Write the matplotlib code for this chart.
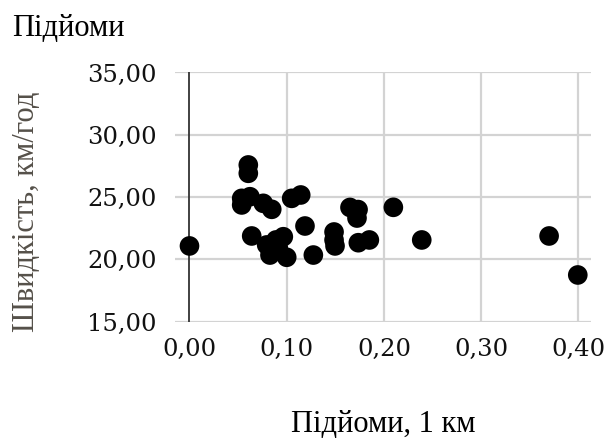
import matplotlib
matplotlib.use("Agg")
import matplotlib.pyplot as plt
from matplotlib.ticker import FixedLocator, FuncFormatter

# Data
climb_km = [0.000, 0.0605, 0.0605, 0.0537, 0.0622, 0.0537, 0.0759, 0.0846,
            0.1051, 0.1144, 0.1188, 0.0640, 0.0965, 0.0794, 0.0914, 0.0828,
            0.1000, 0.0890, 0.1274, 0.1487, 0.1487, 0.1497, 0.1651, 0.1734,
            0.1723, 0.2097, 0.1737, 0.1850, 0.2389, 0.3699, 0.3994]
speed_kmh = [21.08, 27.58, 26.91, 24.90, 25.03, 24.37, 24.50, 24.02,
             24.90, 25.17, 22.68, 21.88, 21.82, 21.16, 20.89, 20.35,
             20.17, 21.56, 20.35, 22.20, 21.56, 21.08, 24.17, 24.00,
             23.32, 24.18, 21.34, 21.56, 21.56, 21.88, 18.75]
x_ticks = [0.0, 0.1, 0.2, 0.3, 0.4]
y_ticks = [15, 20, 25, 30, 35]

title = "Підйоми"
x_label = "Підйоми, 1 км"
y_label = "Швидкість, км/год"

W, H = 607, 440
fig = plt.figure(figsize=(W / 100, H / 100), dpi=100)
ax = fig.add_axes([175 / W, 1 - 321.7 / H, 416 / W, (321.7 - 72.5) / H])

ax.set_xlim(-0.0149, 0.413)
ax.set_ylim(15, 35)

for s in ax.spines.values():
    s.set_visible(False)

grid_c = "#d3d3d3"
for yv in y_ticks:
    ax.axhline(yv, color=grid_c, lw=1.6, zorder=1)
for xv in x_ticks[1:]:
    ax.axvline(xv, color=grid_c, lw=1.6, zorder=1)
ax.axvline(0, color="#333333", lw=1.3, zorder=2)

ax.scatter(climb_km, speed_kmh, s=200, color="black", edgecolors="none", zorder=3)

ax.xaxis.set_major_locator(FixedLocator(x_ticks))
ax.yaxis.set_major_locator(FixedLocator(y_ticks))
ax.xaxis.set_major_formatter(FuncFormatter(lambda v, p: f"{v:.2f}".replace(".", ",")))
ax.yaxis.set_major_formatter(FuncFormatter(lambda v, p: f"{v:.2f}".replace(".", ",")))
ax.tick_params(axis="both", length=0, labelsize=17.5, labelcolor="#111111")
ax.tick_params(axis="x", pad=12)
ax.tick_params(axis="y", pad=13)
for lab in ax.get_xticklabels() + ax.get_yticklabels():
    lab.set_fontfamily("DejaVu Serif")

fig.text(12 / W, 1 - 36 / H, title, fontsize=22, family="Liberation Serif",
         color="black", ha="left", va="baseline")
fig.text(383 / W, 1 - 432 / H, x_label, fontsize=22, family="Liberation Serif",
         color="black", ha="center", va="baseline")
fig.text(26 / W, 1 - 212 / H, y_label, fontsize=22, family="Liberation Serif",
         color="#555049", ha="center", va="center", rotation=90)

fig.savefig("out.png", dpi=100, facecolor="white")
